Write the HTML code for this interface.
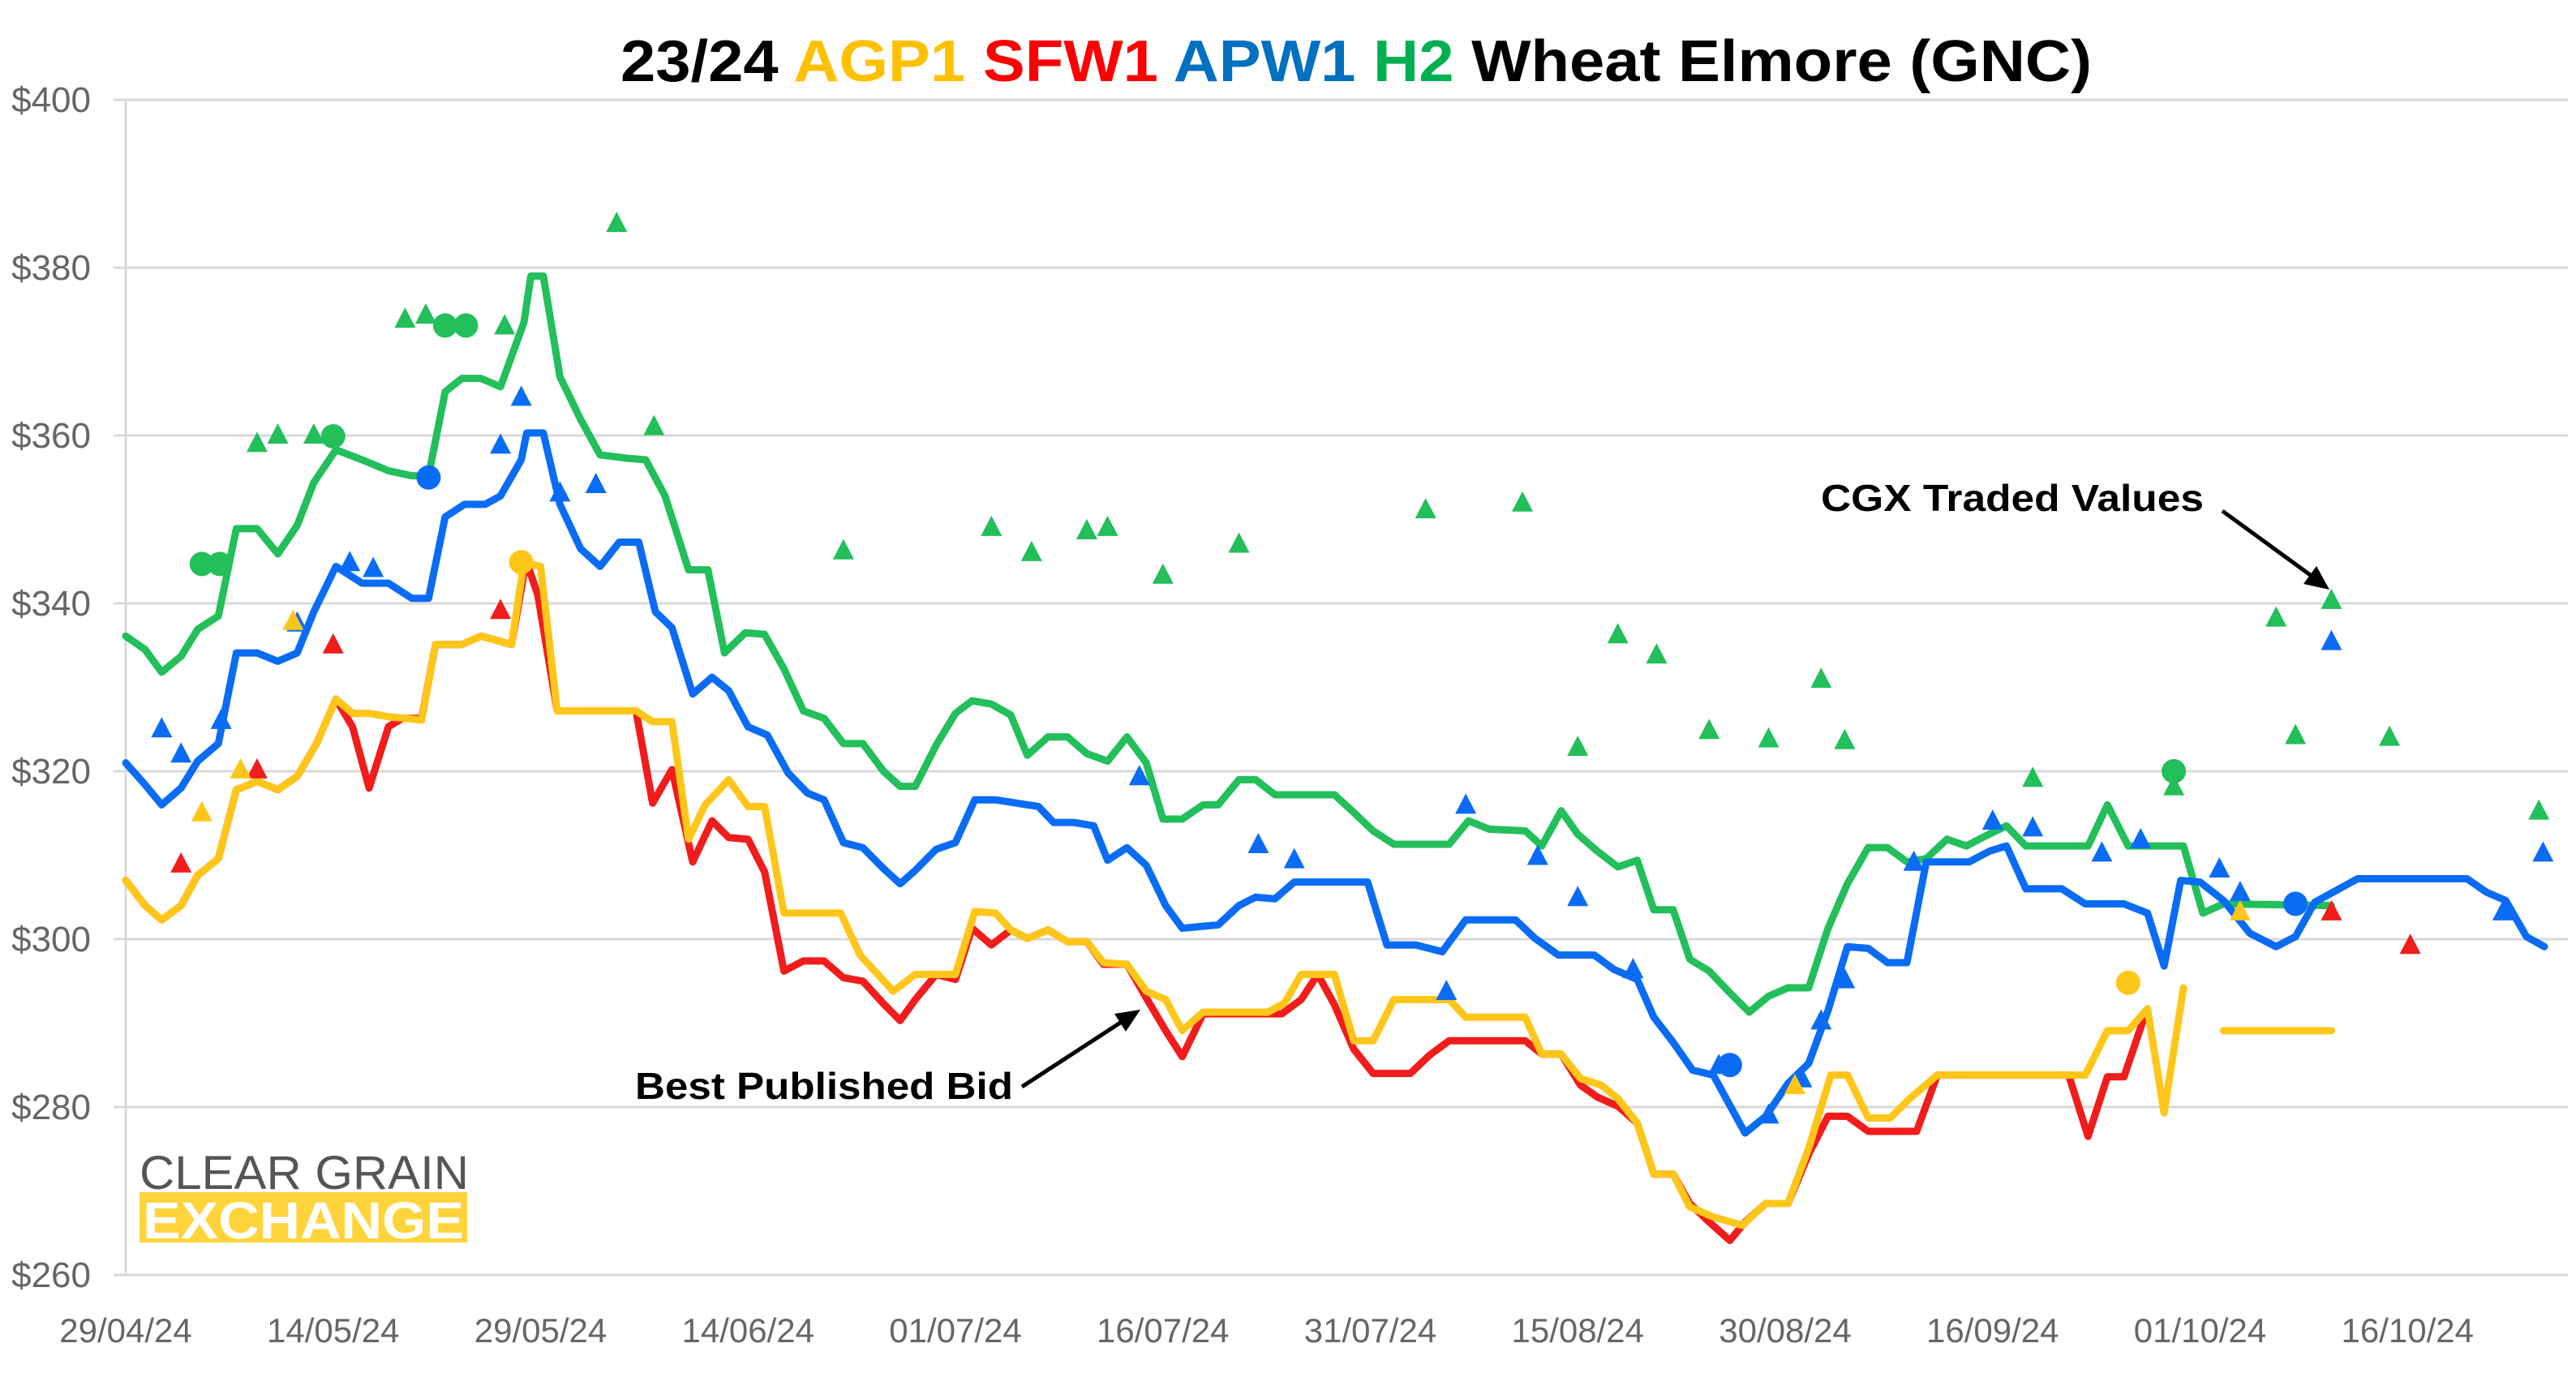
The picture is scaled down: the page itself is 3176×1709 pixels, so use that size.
<!DOCTYPE html>
<html><head><meta charset="utf-8"><style>
html,body{margin:0;padding:0;background:#fff;}
svg{display:block;font-family:"Liberation Sans",Arial,sans-serif;}
</style></head><body>
<svg id="chart" width="3176" height="1709" viewBox="0 0 3176 1709" xmlns="http://www.w3.org/2000/svg">
<text x="1672" y="100" text-anchor="middle" font-size="72" font-weight="bold" fill="#000" textLength="1814" lengthAdjust="spacingAndGlyphs">23/24 <tspan fill="#FFC000">AGP1</tspan> <tspan fill="#FF0000">SFW1</tspan> <tspan fill="#0070C0">APW1</tspan> <tspan fill="#00B050">H2</tspan> Wheat Elmore (GNC)</text>
<g id="grid"></g>
<g id="yaxis"></g>
<g id="xaxis"></g>
<g id="series"></g>
<g id="markers"></g>
<g>
<text x="172" y="1466" font-size="58" fill="#555" textLength="406" lengthAdjust="spacingAndGlyphs">CLEAR GRAIN</text>
<rect x="172" y="1470" width="404" height="62" fill="#FFD43B"/>
<text x="176" y="1527" font-size="64" font-weight="bold" fill="#fff" textLength="396" lengthAdjust="spacingAndGlyphs">EXCHANGE</text>
</g>
<g>
<text x="2245" y="630" font-size="46" font-weight="bold" fill="#000" textLength="472" lengthAdjust="spacingAndGlyphs">CGX Traded Values</text>
<line x1="2740" y1="630" x2="2858" y2="716" stroke="#000" stroke-width="5"/>
<polygon points="2872,727 2840,720 2856,698" fill="#000"/>
</g>
<g>
<text x="783" y="1355" font-size="46" font-weight="bold" fill="#000" textLength="466" lengthAdjust="spacingAndGlyphs">Best Published Bid</text>
<line x1="1260" y1="1340" x2="1392" y2="1254" stroke="#000" stroke-width="5"/>
<polygon points="1406,1245 1374,1250 1388,1272" fill="#000"/>
</g>
</svg>
<script>
const yTicks=[400,380,360,340,320,300,280,260];
const xLabels=["29/04/24","14/05/24","29/05/24","14/06/24","01/07/24","16/07/24","31/07/24","15/08/24","30/08/24","16/09/24","01/10/24","16/10/24"];
const xLabelIdx=[0,15,30,45,60,75,90,105,120,135,150,165];

const h2X=[0,1.4,2.6,4.0,5.2,6.7,8.0,9.5,11.0,12.4,13.6,15.2,17.1,19.0,20.7,21.9,23.1,24.3,25.7,27.1,28.8,29.3,30.2,31.4,32.9,34.3,36.2,37.6,39.0,40.7,42.1,43.3,44.8,46.2,47.6,49.0,50.5,51.9,53.3,54.8,56.0,57.1,58.6,60.0,61.2,62.6,64.0,65.2,66.7,68.1,69.5,71.0,72.4,73.8,75.0,76.4,77.9,79.0,80.5,81.7,83.1,87.4,88.8,90.2,91.7,95.7,97.1,98.6,101.2,102.4,103.8,105.0,106.4,107.9,109.3,110.5,111.9,113.1,114.5,116.0,117.4,118.8,120.2,121.7,123.1,124.5,126.0,127.4,128.8,130.2,131.7,133.1,134.5,136.0,137.4,141.9,143.3,144.8,148.8,150.2,151.7,159.5];
const h2Y=[336.1,334.5,331.8,333.7,336.9,338.5,348.9,348.9,345.9,349.3,354.4,358.3,357.1,355.8,355.2,355.2,365.2,366.8,366.8,365.8,373.5,379.0,379.0,367.0,361.9,357.7,357.3,357.1,352.8,344.0,344.0,334.1,336.5,336.3,332.2,327.2,326.3,323.3,323.3,320.0,318.2,318.2,323.1,326.9,328.4,328.0,326.7,321.9,324.1,324.1,322.1,321.2,324.1,321.0,314.3,314.3,316.0,316.0,319.0,319.0,317.2,317.2,315.1,312.9,311.3,311.3,314.1,313.1,312.9,311.1,315.3,312.5,310.5,308.6,309.4,303.5,303.5,297.6,296.2,293.6,291.3,293.2,294.2,294.2,301.3,306.6,310.9,310.9,309.2,309.6,311.9,311.1,312.3,313.5,311.1,311.1,316.0,311.1,311.1,303.1,304.2,304.0];

const apwX=[0,1.4,2.6,4.0,5.2,6.7,8.0,9.5,11.0,12.4,13.6,15.2,17.1,19.0,20.7,21.9,23.1,24.5,26.0,27.1,28.6,29.0,30.2,31.4,32.9,34.3,35.7,37.1,38.3,39.5,41.0,42.4,43.6,45.0,46.4,47.9,49.3,50.5,51.9,53.3,54.8,56.0,57.1,58.6,60.0,61.4,62.9,66.0,67.1,68.6,70.0,71.0,72.4,73.8,75.2,76.4,79.0,80.5,81.7,83.1,84.5,89.8,91.2,93.3,95.2,96.9,100.5,101.9,103.6,106.2,107.6,109.3,110.5,111.9,113.3,114.8,117.1,118.6,120.2,121.7,123.1,124.5,126.0,127.4,128.8,130.2,133.3,134.8,136.0,137.4,140.0,141.7,144.5,146.2,147.4,148.6,150.0,151.7,153.6,155.5,156.9,158.3,161.4,169.3,170.7,172.1,173.6,174.9];
const apwY=[321.0,318.4,316.0,318.0,321.2,323.3,334.1,334.1,333.1,334.1,339.0,344.4,342.4,342.4,340.6,340.6,350.3,351.8,351.8,352.8,357.1,360.3,360.3,351.8,346.5,344.4,347.3,347.3,339.0,337.1,329.2,331.2,329.6,325.3,324.3,319.8,317.4,316.6,311.5,310.9,308.4,306.6,308.2,310.7,311.5,316.6,316.6,315.8,313.9,313.9,313.5,309.4,310.9,308.8,304.0,301.3,301.7,304.0,305.0,304.8,306.8,306.8,299.3,299.3,298.5,302.3,302.3,300.1,298.1,298.1,296.4,295.2,290.7,287.7,284.4,283.8,276.9,278.9,282.8,285.2,291.5,299.1,298.9,297.2,297.2,309.2,309.2,310.5,311.1,306.0,306.0,304.2,304.2,303.1,296.8,307.0,306.8,304.6,300.7,299.1,300.3,304.4,307.2,307.2,305.6,304.6,300.3,299.1];

const sfwX=[0,1.4,2.6,4.0,5.2,6.7,8.0,9.5,11.0,12.4,13.8,15.2,16.4,17.6,19.0,20.0,21.4,22.4,24.3,25.7,27.9,28.8,29.0,29.8,31.2,36.9,38.1,39.5,41.0,42.4,43.6,45.0,46.2,47.6,49.0,50.5,51.9,53.3,54.8,56.0,57.1,58.6,60.0,61.2,62.6,64.0,65.2,66.7,68.1,69.5,70.7,72.4,73.8,75.2,76.4,77.9,83.6,85.0,86.2,87.4,88.8,90.2,92.9,94.3,95.7,101.2,102.4,103.8,105.2,106.4,107.9,109.3,110.5,111.9,113.1,114.5,116.0,117.1,118.6,120.2,121.7,123.1,124.5,126.0,129.5,131.0,140.5,141.9,143.3,144.5,146.0];
const sfwY=[307.0,304.0,302.3,304.0,307.6,309.6,317.8,318.8,317.8,319.4,323.3,328.6,325.3,318.0,325.3,326.3,326.3,335.1,335.1,336.1,335.1,343.6,344.9,341.0,327.2,327.2,316.2,320.2,309.2,314.1,312.1,311.9,308.0,296.2,297.4,297.4,295.4,295.0,292.3,290.3,292.8,295.8,295.2,301.3,299.3,301.1,300.1,301.1,299.7,299.7,297.0,297.0,293.0,289.1,286.0,291.1,291.1,292.8,295.8,292.2,286.9,284.0,284.0,286.2,287.9,287.9,286.3,286.3,282.6,281.2,280.1,278.1,272.0,272.0,268.5,266.3,264.1,266.3,268.5,268.5,274.4,278.9,278.9,277.1,277.1,283.8,283.8,276.5,283.6,283.6,290.9];

const agpX=[0,1.4,2.6,4.0,5.2,6.7,8.0,9.5,11.0,12.4,13.8,15.2,16.4,17.6,19.0,21.4,22.4,24.3,25.7,27.9,28.8,30.0,31.2,36.9,38.1,39.5,40.7,41.9,43.6,45.0,46.2,47.6,51.7,53.1,55.5,57.1,60.0,61.4,62.9,64.0,65.2,66.7,68.1,69.5,70.7,72.4,73.8,75.2,76.4,77.9,82.6,83.8,85.0,87.4,88.8,90.2,91.7,95.7,96.9,101.2,102.4,103.8,105.2,106.7,107.9,109.3,110.5,111.9,113.1,114.8,116.9,118.6,120.2,121.7,123.3,124.5,126.0,127.6,129.0,131.0,141.7,143.3,144.8,146.2,147.4,148.8];
const agpY=[307.0,304.0,302.3,304.0,307.6,309.6,317.8,318.8,317.8,319.4,323.3,328.6,326.9,326.9,326.5,326.1,335.1,335.1,336.1,335.1,344.9,344.4,327.2,327.2,325.9,325.9,311.9,316.0,319.0,315.8,315.8,303.1,303.1,298.1,293.8,295.8,295.8,303.3,303.1,301.1,300.1,301.1,299.7,299.7,297.2,297.0,293.8,292.8,289.1,291.3,291.3,292.4,295.8,295.8,287.9,287.9,292.8,292.8,290.7,290.7,286.3,286.3,283.4,282.6,281.0,278.1,272.0,272.0,268.1,266.9,265.9,268.5,268.5,275.1,283.8,283.8,278.7,278.7,281.0,283.8,283.8,289.1,289.1,291.7,279.3,294.2];
const agp2X=[151.7,159.5];
const agp2Y=[289.1,289.1];

const h2TriX=[9.5,11.0,13.6,20.2,21.7,27.4,35.5,38.2,51.9,62.6,65.5,69.5,71.0,75.0,80.5,94.0,101.0,105.0,107.9,110.7,114.5,118.8,122.6,124.3,137.9,148.1,155.5,156.9,159.5,163.7,174.5];
const h2TriY=[359.1,360.1,360.1,373.9,374.4,373.1,385.3,361.1,346.3,349.1,346.1,348.7,349.1,343.4,347.1,351.2,352.0,322.9,336.3,333.9,324.9,323.9,331.0,323.7,319.2,318.2,338.3,324.3,340.4,324.1,315.3];
const h2DotX=[5.5,6.8,15.0,23.1,24.6,148.1];
const h2DotY=[344.7,344.7,359.9,373.1,373.1,320.0];
const apwTriX=[2.6,4.0,6.9,12.4,16.2,17.9,27.1,28.6,31.4,34.0,73.3,81.9,84.5,95.5,96.9,102.1,105.0,109.0,115.2,118.8,121.2,122.6,124.3,129.3,135.0,137.9,142.9,145.7,151.4,152.9,159.5,171.9,174.8];
const apwTriY=[325.1,322.1,326.1,337.7,344.9,344.2,358.9,364.6,353.2,354.2,319.4,311.3,309.5,293.8,316.0,309.9,305.0,296.4,285.0,279.1,283.4,290.3,295.2,309.2,314.1,313.3,310.3,311.9,308.4,305.6,335.5,303.3,310.3];
const apwDotX=[21.9,116.0,156.9];
const apwDotY=[355.0,285.0,304.2];
const sfwTriX=[4.0,9.5,15.0,27.1,159.5,165.2];
const sfwTriY=[309.0,320.2,335.1,339.2,303.3,299.3];
const agpTriX=[5.5,8.3,12.1,120.7,152.9];
const agpTriY=[315.1,320.2,337.9,282.6,303.3];
const agpDotX=[28.6,144.8];
const agpDotY=[344.9,294.8];

const NS="http://www.w3.org/2000/svg";
const X0=155, XS=17.05, Y0=123, YS=1449/140;
function xs(i){return X0+i*XS;}
function ys(v){return Y0+(400-v)*YS;}
function mk(tag,attrs,parent){const e=document.createElementNS(NS,tag);for(const k in attrs)e.setAttribute(k,attrs[k]);parent.appendChild(e);return e;}

const grid=document.getElementById('grid'),yax=document.getElementById('yaxis'),xax=document.getElementById('xaxis');
yTicks.forEach(t=>{
  const l=mk('line',{x1:140,x2:3166,y1:ys(t),y2:ys(t),stroke:'#d9d9d9','stroke-width':3},grid);
  
  
  const tx=mk('text',{x:112,y:ys(t)+15,'text-anchor':'end','font-size':44,fill:'#666'},yax);
  tx.textContent='$'+t;
  
  
});
const ax=mk('line',{x1:X0,x2:X0,y1:Y0,y2:ys(260),stroke:'#d9d9d9','stroke-width':3},grid);


xLabels.forEach((lb,k)=>{
  const tx=mk('text',{x:xs(xLabelIdx[k]),y:1655,'text-anchor':'middle','font-size':42,fill:'#666'},xax);
  tx.textContent=lb;
  
  
});

const sg=document.getElementById('series');
function line(X,Y,color,name){
  const p=mk('polyline',{points:X.map((x,i)=>xs(x)+','+ys(Y[i])).join(' '),fill:'none',stroke:color,'stroke-width':9,'stroke-linejoin':'round','stroke-linecap':'round'},sg);
  
  
}
line(h2X,h2Y,'#22BF5A','h2-line');
line(apwX,apwY,'#0A6CF5','apw1-line');
line(sfwX,sfwY,'#F21C1C','sfw1-line');
line(agpX,agpY,'#FFC61A','agp1-line');
line(agp2X,agp2Y,'#FFC61A','agp1-line-segment');

const mg=document.getElementById('markers');
function tris(X,Y,color,name){
  X.forEach((x,i)=>{
    const cx=xs(x),cy=ys(Y[i]);
    const t=mk('polygon',{points:`${cx},${cy-14} ${cx-13},${cy+11} ${cx+13},${cy+11}`,fill:color},mg);
    
    
  });
}
function dots(X,Y,color,name){
  X.forEach((x,i)=>{
    const c=mk('circle',{cx:xs(x),cy:ys(Y[i]),r:15,fill:color},mg);
    
    
  });
}
tris(h2TriX,h2TriY,'#22BF5A','h2-trade-triangle');
dots(h2DotX,h2DotY,'#22BF5A','h2-trade-dot');
tris(apwTriX,apwTriY,'#0A6CF5','apw1-trade-triangle');
dots(apwDotX,apwDotY,'#0A6CF5','apw1-trade-dot');
tris(sfwTriX,sfwTriY,'#F21C1C','sfw1-trade-triangle');
tris(agpTriX,agpTriY,'#FFC61A','agp1-trade-triangle');
dots(agpDotX,agpDotY,'#FFC61A','agp1-trade-dot');
</script>
</body></html>
